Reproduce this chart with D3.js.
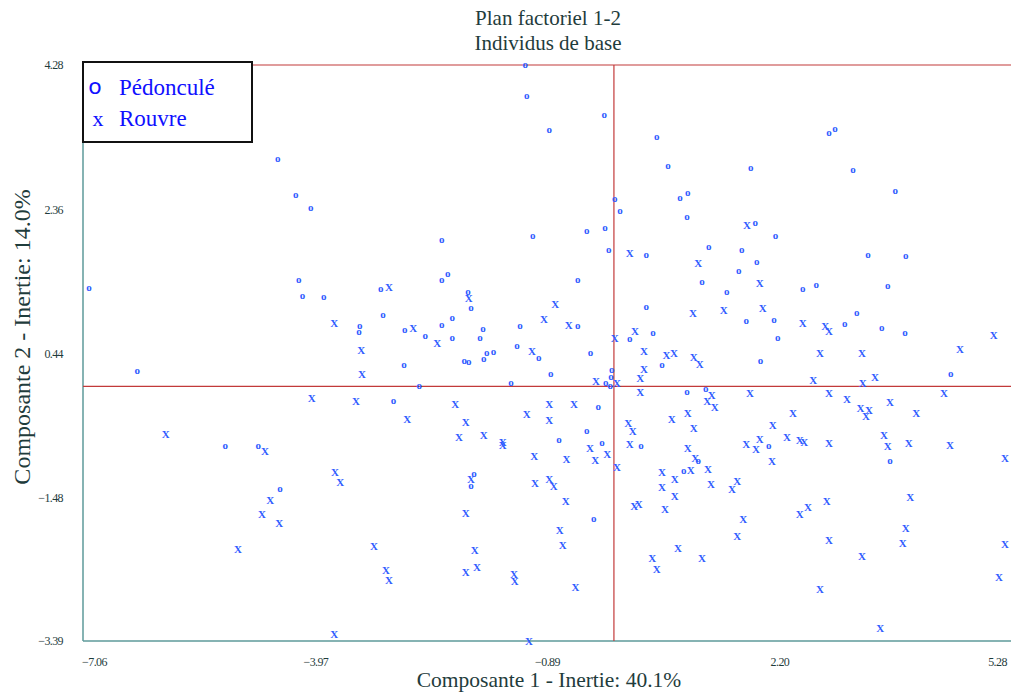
<!DOCTYPE html>
<html><head><meta charset="utf-8">
<script src="https://cdn.jsdelivr.net/npm/d3@7"></script>
<style>html,body{margin:0;padding:0;background:#fff;}svg{display:block;}</style>
</head><body><div id="chart"></div>
<script>
const title1 = "Plan factoriel 1-2";
const title2 = "Individus de base";
const xLabel = "Composante 1 - Inertie: 40.1%";
const yLabel = "Composante 2 - Inertie: 14.0%";
const xTicks = [-7.06, -3.97, -0.89, 2.20, 5.28];
const yTicks = [4.28, 2.36, 0.44, -1.48, -3.39];
const seriesNames = ["Pédonculé", "Rouvre"];

const pedX = [-4.47,-4.23,-4.03,-6.98,-4.19,-4.14,-3.86,-3.38,-3.39,-3.10,-3.07,-1.18,-1.16,-0.13,-0.86,0.57,0.72,0.01,0.08,0.88,0.98,0.97,-2.29,-1.08,-0.36,-0.12,-0.07,0.43,1.17,-0.48,-2.29,-2.21,-1.94,-1.90,-0.48,0.43,-2.78,-2.51,-2.29,-2.15,-2.15,-1.74,-1.78,-1.25,-1.29,-1.69,-1.60,-0.31,0.21,0.52,2.86,2.94,1.82,3.18,3.74,1.88,2.15,1.26,1.70,1.90,1.66,1.50,2.51,2.69,3.38,3.88,3.64,1.76,2.13,2.18,3.07,3.23,3.56,3.87,-6.34,-2.93,-5.17,-4.73,-4.44,-2.79,-1.99,-1.93,-1.73,-1.00,-0.84,-2.59,-1.37,-0.03,-0.04,-0.11,-0.05,0.64,0.97,-0.21,-0.36,-0.73,-0.16,0.36,1.12,0.93,-1.86,-1.90,-0.27,1.95,4.48,1.22,2.06,3.67];
const pedY = [3.02,2.54,2.37,1.30,1.41,1.20,1.18,0.80,0.72,1.29,0.94,4.27,3.86,3.60,3.40,3.31,2.93,2.49,2.33,2.50,2.57,2.25,1.94,1.99,2.06,2.10,1.81,1.74,1.38,1.41,1.41,1.48,1.25,1.04,0.80,1.05,0.74,0.66,0.81,0.90,0.64,0.76,0.64,0.80,0.53,0.44,0.45,0.44,0.62,0.70,3.36,3.42,2.90,2.87,2.59,2.17,1.99,1.84,1.81,1.65,1.53,1.25,1.28,1.34,1.74,1.72,1.33,0.86,0.88,0.64,0.82,0.97,0.77,0.70,0.19,-0.21,-0.80,-0.80,-1.37,0.27,0.33,0.31,0.35,0.37,0.15,-0.01,0.03,0.21,0.12,0.03,-0.01,0.28,-0.08,-0.29,-0.60,-0.73,-0.76,-0.80,-1.01,-1.14,-1.18,-1.34,-1.78,0.33,0.15,-0.04,-0.80,-1.00];

const rouX = [-3.72,-3.36,-2.99,0.21,1.12,-1.93,-0.78,-0.93,-0.60,1.05,-2.67,-2.35,-1.09,0.01,0.28,0.40,0.70,0.80,1.77,1.94,1.46,1.98,2.51,2.81,2.86,5.05,4.60,2.74,3.30,-3.35,-4.02,-3.43,-5.96,-4.64,-3.71,-3.64,-4.57,-4.68,-4.45,-5.00,-3.19,-3.03,-2.99,-3.72,-0.24,0.04,1.06,1.14,0.40,0.35,0.35,-2.11,-2.75,-1.97,-2.06,-1.73,-1.48,-1.48,-1.16,-0.86,-0.86,-0.53,-0.32,-0.09,-0.25,-1.06,-0.63,0.04,0.19,0.25,0.21,0.77,0.98,1.06,0.98,1.08,1.02,0.64,0.81,0.64,0.81,0.27,0.33,0.68,-1.90,-1.05,-0.86,-0.80,-0.64,-1.97,-0.72,-0.68,-1.85,-1.97,-1.82,-1.33,-1.32,-0.51,0.85,0.51,0.57,1.17,-1.13,3.47,2.65,3.31,1.30,1.24,1.34,1.81,2.86,3.10,3.28,3.39,3.35,3.67,4.02,4.39,2.38,2.11,1.76,1.94,1.89,2.30,2.47,2.53,2.86,2.10,3.59,3.64,3.92,4.47,5.20,1.25,1.29,1.64,1.57,2.83,2.58,2.47,3.94,1.72,1.64,2.86,3.88,3.84,3.30,5.20,5.12,2.74,3.54];
const rouY = [0.84,0.48,1.32,1.78,1.64,1.17,1.10,0.89,0.82,0.98,0.78,0.57,0.47,0.64,0.73,0.47,0.41,0.44,2.15,1.37,1.02,1.04,0.84,0.80,0.74,0.68,0.49,0.44,0.44,0.16,-0.15,-0.19,-0.63,-0.86,-1.14,-1.28,-1.52,-1.70,-1.82,-2.17,-2.13,-2.45,-2.58,-3.30,0.07,0.05,0.39,0.29,0.23,0.11,-0.07,-0.24,-0.44,-0.48,-0.68,-0.65,-0.78,-0.74,-0.37,-0.24,-0.45,-0.24,-0.82,-0.90,-0.98,-0.93,-0.97,-1.08,-0.49,-0.60,-0.77,-0.43,-0.35,-0.55,-0.82,-0.96,-1.12,-1.14,-1.24,-1.34,-1.46,-1.60,-1.57,-1.64,-1.24,-1.29,-1.24,-1.33,-1.53,-1.69,-1.91,-2.11,-2.18,-2.47,-2.41,-2.50,-2.59,-2.67,-2.15,-2.29,-2.43,-2.29,-3.39,0.13,0.09,0.05,-0.12,-0.19,-0.27,-0.09,-0.09,-0.17,-0.29,-0.31,-0.39,-0.21,-0.36,-0.09,-0.35,-0.51,-0.77,-0.70,-0.84,-0.68,-0.72,-0.74,-0.76,-1.00,-0.65,-0.80,-0.76,-0.78,-0.96,-1.10,-1.30,-1.26,-1.37,-1.53,-1.61,-1.70,-1.48,-1.77,-1.99,-2.05,-1.89,-2.09,-2.26,-2.10,-2.54,-2.70,-3.22];

const W = 1011, H = 693;
const svg = d3.select("#chart").append("svg").attr("width", W).attr("height", H);
const x = d3.scaleLinear().domain([-7.06, 5.28]).range([83, 1011]);
const y = d3.scaleLinear().domain([-3.39, 4.28]).range([641, 65]);
const serif = "'Liberation Serif','DejaVu Serif',serif";
const textCol = "#1f3c3c";
const red = "#c23a3a", teal = "#5e9a9a";

// frame
svg.append("line").attr("x1", x(-7.06)).attr("x2", W).attr("y1", y(4.28)).attr("y2", y(4.28)).attr("stroke", red).attr("stroke-width", 1.2);
svg.append("line").attr("x1", x(-7.06)).attr("x2", W).attr("y1", y(-3.39)).attr("y2", y(-3.39)).attr("stroke", teal).attr("stroke-width", 1.5);
svg.append("line").attr("x1", x(-7.06)).attr("x2", x(-7.06)).attr("y1", y(4.28)).attr("y2", y(-3.39)).attr("stroke", teal).attr("stroke-width", 1.5);
// zero lines
svg.append("line").attr("x1", x(-7.06)).attr("x2", W).attr("y1", y(0)).attr("y2", y(0)).attr("stroke", red).attr("stroke-width", 1.2);
svg.append("line").attr("x1", x(0)).attr("x2", x(0)).attr("y1", y(4.28)).attr("y2", y(-3.39)).attr("stroke", red).attr("stroke-width", 1.2);

// axes ticks
const yAxis = d3.axisLeft(y).tickValues(yTicks).tickSize(0).tickFormat(d3.format(".2f"));
const gy = svg.append("g").attr("transform", "translate(63,0)").call(yAxis);
gy.select(".domain").remove();
gy.selectAll("text").attr("font-family", serif).attr("font-size", 12).attr("fill", textCol).attr("x", 0).attr("letter-spacing", "-0.6px");

const xAxis = d3.axisBottom(x).tickValues(xTicks).tickSize(0).tickFormat(d3.format(".2f"));
const gx = svg.append("g").attr("transform", "translate(0,654)").call(xAxis);
gx.select(".domain").remove();
gx.selectAll("text").attr("font-family", serif).attr("font-size", 12).attr("fill", textCol).attr("letter-spacing", "-0.6px")
  .attr("dx", (d, i) => i === 0 ? 11 : (i === xTicks.length - 1 ? -14 : 0));

// titles
svg.append("text").attr("x", 548).attr("y", 25).attr("text-anchor", "middle").attr("font-family", serif).attr("font-size", 21).attr("fill", textCol).text(title1);
svg.append("text").attr("x", 548).attr("y", 50).attr("text-anchor", "middle").attr("font-family", serif).attr("font-size", 21).attr("fill", textCol).text(title2);
svg.append("text").attr("x", 549).attr("y", 687).attr("text-anchor", "middle").attr("font-family", serif).attr("font-size", 21.5).attr("fill", textCol).text(xLabel);
svg.append("text").attr("transform", "translate(30,337) rotate(-90)").attr("text-anchor", "middle").attr("font-family", serif).attr("font-size", 24).attr("fill", textCol).text(yLabel);

// points
const markCol = "#2f5cff";
const ped = pedX.map((v, i) => ({x: v, y: pedY[i]}));
const rou = rouX.map((v, i) => ({x: v, y: rouY[i]}));
svg.append("g").selectAll("text").data(ped).join("text")
  .attr("x", d => x(d.x)).attr("y", d => y(d.y)).attr("dy", "0.2em")
  .attr("text-anchor", "middle").attr("font-family", serif).attr("font-size", 11).attr("font-weight", "bold").attr("fill", markCol).text("o");
svg.append("g").selectAll("text").data(rou).join("text")
  .attr("x", d => x(d.x)).attr("y", d => y(d.y)).attr("dy", "0.35em")
  .attr("text-anchor", "middle").attr("font-family", serif).attr("font-size", 11).attr("font-weight", "bold").attr("fill", markCol).text("X");

// legend
const lg = svg.append("g");
lg.append("rect").attr("x", 83).attr("y", 62).attr("width", 169).attr("height", 80).attr("fill", "#fff").attr("stroke", "#111").attr("stroke-width", 2);
lg.append("text").attr("x", 95).attr("y", 94).attr("text-anchor", "middle").attr("font-family", "'DejaVu Sans',sans-serif").attr("font-size", 22).attr("fill", "#1010ff").text("o");
lg.append("text").attr("x", 98).attr("y", 126).attr("text-anchor", "middle").attr("font-family", serif).attr("font-size", 22).attr("fill", "#1010ff").text("x");
lg.append("text").attr("x", 119).attr("y", 95).attr("font-family", serif).attr("font-size", 23).attr("fill", "#1010ff").text(seriesNames[0]);
lg.append("text").attr("x", 119).attr("y", 126).attr("font-family", serif).attr("font-size", 23).attr("fill", "#1010ff").text(seriesNames[1]);
</script></body></html>
